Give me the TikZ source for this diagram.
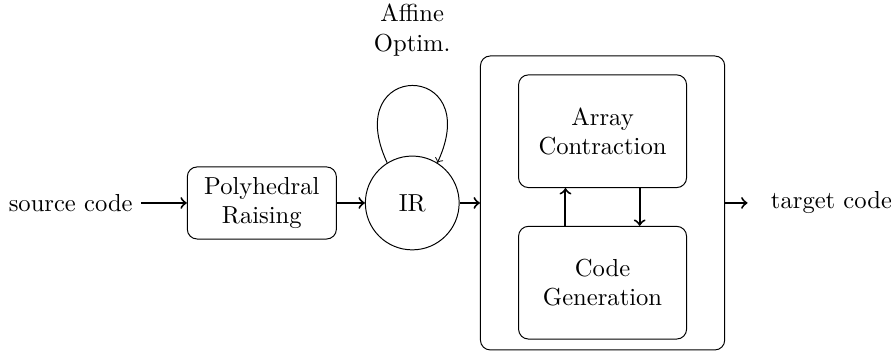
\documentclass[tikz,border=0pt]{standalone}
\usepackage{tikz}
\usetikzlibrary{arrows,positioning}
\tikzset{
    block/.style={rectangle, draw, rounded corners, align=center, minimum width=2.13cm, minimum height=1.03cm},
    stage/.style={rectangle, draw, rounded corners, align=center, minimum width=2.4cm, minimum height=1.61cm},
    irnode/.style={circle, draw, minimum size=1.34cm},
    outer/.style={rectangle, draw, rounded corners, minimum width=3.49cm, minimum height=4.2cm},
    line/.style={draw, ->, thick}
}

\begin{document}
\begin{tikzpicture}
    \useasboundingbox (0,0) rectangle (12.73,5.03);
    \node (src) at (1.01,2.13) {source code};
    \node[block, right=0.65cm of src] (poly) {Polyhedral\\Raising};
    \node[irnode, right=0.4cm of poly] (ir) {IR};
    \node[outer, right=0.29cm of ir] (pipeline) {};
    \node[right=0.53cm of pipeline] (tgt) {target code};

    \node[stage, below=0.27cm of pipeline.north] (array) {Array\\Contraction};
    \node[stage, below=0.54cm of array] (codegen) {Code\\Generation};

    \draw[line] (src) -- (poly);
    \draw[line] (poly) -- (ir);
    \draw[line] (ir) -- (pipeline);
    \draw[line, shorten >=6pt] (pipeline) -- (tgt);

    % loop on the IR
    \draw[->] (ir.122) to[out=115, in=65, looseness=5.8]
        node[above=0.3cm, align=center] (optim) {Affine\\Optim.} (ir.58);

    \draw[line] ([xshift=-0.53cm]codegen.north) -- ([xshift=-0.53cm]array.south);
    \draw[line] ([xshift=0.53cm]array.south) -- ([xshift=0.53cm]codegen.north);
\end{tikzpicture}
\end{document}
